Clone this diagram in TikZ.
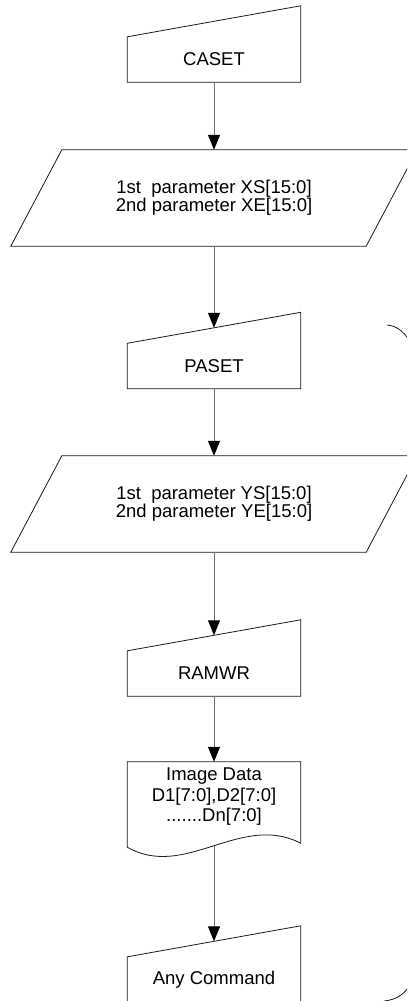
\documentclass[tikz,border=0pt]{standalone}
\usepackage{fontspec}
\setmainfont{Liberation Sans}
\usetikzlibrary{arrows.meta,calc}
\definecolor{outc}{HTML}{1A1A1A}
\definecolor{linkc}{HTML}{6E6E6E}
\tikzset{
  >={Triangle[length=15pt,width=12pt,color=black]},
  txt/.style={inner sep=0pt,align=center,font=\fontsize{18.5}{18}\selectfont},
  minput/.style={txt,minimum width=173pt,minimum height=45pt},
  para/.style={txt,minimum width=355pt,minimum height=96pt},
  docu/.style={txt,minimum width=173pt,minimum height=70pt,font=\fontsize{18.5}{20.5}\selectfont},
  outl/.style={draw=outc,line width=0.8pt},
  flow/.style={->,draw=linkc,line width=1pt},
}

\begin{document}
\begin{tikzpicture}[x=1pt,y=1pt,
  brc/.style={draw=outc,line width=0.8pt}]
  \useasboundingbox (0,0) rectangle (407,-1001);
  \clip (0,0) rectangle (407,-1001);
  % shapes
  \node[minput] (caset) at (214,-59.5) {CASET};
  \node[para] (xpar) at (214,-198) {1st\ \ parameter XS[15:0]\\2nd parameter XE[15:0]};
  \node[minput] (paset) at (214,-366) {PASET};
  \node[para] (ypar) at (214,-504) {1st\ \ parameter YS[15:0]\\2nd parameter YE[15:0]};
  \node[minput] (ramwr) at (214,-673.5) {RAMWR};
  \node[docu] (imgdata) at (214,-797) {Image Data\\D1[7:0],D2[7:0]\\.......Dn[7:0]};
  \node[minput] (anycmd) at (214,-979.5) {Any Command};
  \foreach \n in {caset,paset,ramwr,anycmd}
    \draw[outl] (\n.south west) -- (\n.south east) -- ([yshift=31pt]\n.north east) -- (\n.north west) -- cycle;
  \foreach \n in {xpar,ypar}
    \draw[outl] ([xshift=-25.5pt]\n.south west) -- ([xshift=-25.5pt]\n.south east)
      -- ([xshift=25.5pt]\n.north east) -- ([xshift=25.5pt]\n.north west) -- cycle;
  \draw[outl] (imgdata.south west) -- (imgdata.north west) -- (imgdata.north east)
    -- ([yshift=-11pt]imgdata.south east)
    .. controls ([xshift=-60pt,yshift=20pt]imgdata.south east) and ([xshift=58pt,yshift=-48pt]imgdata.south west)
    .. ([yshift=-15pt]imgdata.south west) -- cycle;
  % connectors
  \draw[flow] (caset.south) -- (xpar.north);
  \draw[flow] (xpar.south) -- ([yshift=15.5pt]paset.north);
  \draw[flow] (paset.south) -- (ypar.north);
  \draw[flow] (ypar.south) -- ([yshift=15.5pt]ramwr.north);
  \draw[flow] (ramwr.south) -- (imgdata.north);
  \draw[flow] ([yshift=-14pt]imgdata.south) -- ([yshift=15.5pt]anycmd.north);
  % brace ends at the right edge
  \draw[brc] (387,-325) .. controls (398,-326) and (406,-333) .. (412,-346);
  \draw[brc] (384,-1001) .. controls (395,-1000) and (404,-995) .. (410,-985);
\end{tikzpicture}
\end{document}
